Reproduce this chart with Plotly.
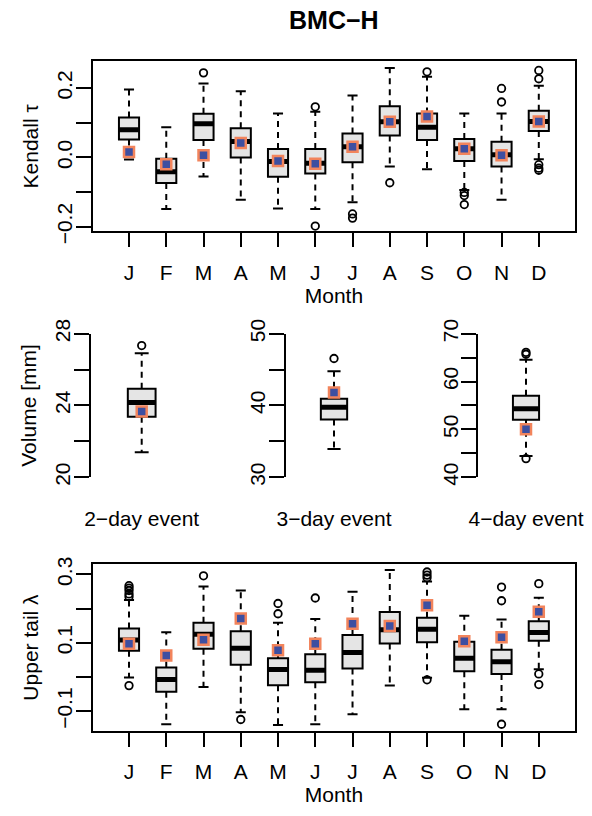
import plotly.graph_objects as go

W, H = 592, 816

months = ["J", "F", "M", "A", "M", "J", "J", "A", "S", "O", "N", "D"]
month_pos = list(range(1, 13))

# Kendall tau (top panel)
tau_upper = [0.196, 0.087, 0.213, 0.191, 0.127, 0.132, 0.179, 0.258, 0.233, 0.127, 0.127, 0.207]
tau_q3 = [0.115, -0.004, 0.126, 0.084, 0.024, 0.024, 0.069, 0.148, 0.127, 0.053, 0.045, 0.135]
tau_median = [0.080, -0.041, 0.097, 0.046, -0.012, -0.017, 0.031, 0.103, 0.087, 0.025, 0.008, 0.104]
tau_q1 = [0.052, -0.074, 0.050, 0.000, -0.056, -0.046, -0.014, 0.063, 0.050, -0.010, -0.026, 0.076]
tau_lower = [-0.006, -0.149, -0.055, -0.122, -0.147, -0.149, -0.129, -0.026, -0.034, -0.094, -0.122, -0.005]
tau_observed = [0.016, -0.020, 0.006, 0.042, -0.010, -0.018, 0.031, 0.103, 0.118, 0.025, 0.006, 0.104]
tau_out_month = [3, 6, 6, 7, 7, 8, 9, 10, 10, 10, 11, 11, 12, 12, 12, 12, 12]
tau_out_value = [0.244, 0.146, -0.198, -0.163, -0.175, -0.073, 0.247, -0.101, -0.110, -0.136,
                 0.199, 0.160, 0.251, 0.227, -0.021, -0.031, -0.037]

# Upper tail lambda (bottom panel)
lam_upper = [0.225, 0.131, 0.265, 0.253, 0.159, 0.170, 0.249, 0.313, 0.279, 0.179, 0.168, 0.232]
lam_q3 = [0.142, 0.028, 0.159, 0.134, 0.055, 0.067, 0.123, 0.190, 0.173, 0.103, 0.080, 0.163]
lam_median = [0.108, -0.007, 0.125, 0.084, 0.022, 0.020, 0.072, 0.138, 0.140, 0.055, 0.045, 0.130]
lam_q1 = [0.077, -0.043, 0.083, 0.036, -0.024, -0.015, 0.025, 0.098, 0.102, 0.017, 0.009, 0.106]
lam_lower = [-0.001, -0.138, -0.029, -0.103, -0.140, -0.138, -0.109, -0.025, -0.002, -0.094, -0.094, 0.023]
lam_observed = [0.097, 0.063, 0.109, 0.171, 0.078, 0.097, 0.156, 0.149, 0.210, 0.105, 0.116, 0.191]
lam_out_month = [1, 1, 1, 1, 1, 1, 3, 4, 5, 5, 6, 9, 9, 9, 9, 11, 11, 11, 12, 12, 12]
lam_out_value = [0.267, 0.260, 0.253, 0.243, 0.235, -0.025, 0.296, -0.124, 0.215, 0.185, 0.231,
                 0.307, 0.298, 0.290, -0.008, 0.263, 0.223, -0.138, 0.273, 0.009, -0.022]

# Volume (middle row): 2-, 3-, 4-day events
event_labels = ["2−day event", "3−day event", "4−day event"]
vol_upper = [26.91, 44.75, 64.55]
vol_q3 = [24.93, 40.95, 57.03]
vol_median = [24.16, 39.74, 54.33]
vol_q1 = [23.37, 38.03, 52.04]
vol_lower = [21.40, 33.95, 44.44]
vol_observed = [23.66, 41.80, 50.03]
vol_outliers = [[27.34], [46.54], [66.1, 65.7, 43.9]]
vol_ranges = [[20, 28], [30, 50], [40, 70]]
vol_ticks = [[20, 22, 24, 26, 28], [30, 35, 40, 45, 50], [40, 45, 50, 55, 60, 65, 70]]
vol_ticktext = [["20", "", "24", "", "28"], ["30", "", "40", "", "50"],
                ["40", "", "50", "", "60", "", "70"]]

FONT = "Liberation Sans, Arial, sans-serif"
FS = 21
BOX_FILL = "#e5e5e5"
OBS_FILL = "#3d4fa1"
OBS_EDGE = "#f2845c"


def px_x(p):
    return p / W


def px_y(p):
    return 1 - p / H


fig = go.Figure()


def add_boxplot(xa, ya, pos, q1, med, q3, lo, hi, obs, out_pos, out_val, half):
    cap = half / 2
    # whiskers (dashed)
    wx, wy = [], []
    for p, a, b, c, d in zip(pos, q3, hi, q1, lo):
        wx += [p, p, None, p, p, None]
        wy += [a, b, None, c, d, None]
    fig.add_trace(go.Scatter(x=wx, y=wy, mode="lines", xaxis=xa, yaxis=ya,
                             line=dict(color="black", width=2, dash="6px,5px"),
                             hoverinfo="skip", showlegend=False))
    # staples
    sx, sy = [], []
    for p, b, d in zip(pos, hi, lo):
        sx += [p - cap, p + cap, None, p - cap, p + cap, None]
        sy += [b, b, None, d, d, None]
    fig.add_trace(go.Scatter(x=sx, y=sy, mode="lines", xaxis=xa, yaxis=ya,
                             line=dict(color="black", width=2),
                             hoverinfo="skip", showlegend=False))
    # boxes
    fig.add_trace(go.Box(x=pos, q1=q1, median=med, q3=q3, lowerfence=q1, upperfence=q3,
                         width=2 * half, whiskerwidth=0, fillcolor=BOX_FILL,
                         line=dict(color="black", width=2), boxpoints=False,
                         xaxis=xa, yaxis=ya, showlegend=False))
    # thick medians
    mx, my = [], []
    for p, m in zip(pos, med):
        mx += [p - half * 0.99, p + half * 0.99, None]
        my += [m, m, None]
    fig.add_trace(go.Scatter(x=mx, y=my, mode="lines", xaxis=xa, yaxis=ya,
                             line=dict(color="black", width=5),
                             hoverinfo="skip", showlegend=False))
    # outliers
    fig.add_trace(go.Scatter(x=out_pos, y=out_val, mode="markers", xaxis=xa, yaxis=ya,
                             marker=dict(symbol="circle-open", size=7.5, color="black",
                                         line=dict(width=1.8, color="black")),
                             showlegend=False, cliponaxis=False))
    # observed values
    fig.add_trace(go.Scatter(x=pos, y=obs, mode="markers", xaxis=xa, yaxis=ya,
                             marker=dict(symbol="square", size=10, color=OBS_FILL,
                                         line=dict(width=2.5, color=OBS_EDGE)),
                             showlegend=False, cliponaxis=False))


# top panel
add_boxplot("x", "y", month_pos, tau_q1, tau_median, tau_q3, tau_lower, tau_upper,
            tau_observed, tau_out_month, tau_out_value, 0.27)
# bottom panel
add_boxplot("x5", "y5", month_pos, lam_q1, lam_median, lam_q3, lam_lower, lam_upper,
            lam_observed, lam_out_month, lam_out_value, 0.27)
# middle panels
for k in range(3):
    xa, ya = "x%d" % (k + 2), "y%d" % (k + 2)
    add_boxplot(xa, ya, [1], [vol_q1[k]], [vol_median[k]], [vol_q3[k]], [vol_lower[k]],
                [vol_upper[k]], [vol_observed[k]], [1] * len(vol_outliers[k]),
                vol_outliers[k], 0.147)

tickfont = dict(family=FONT, size=FS, color="black")
titlefont = dict(family=FONT, size=FS, color="black")

month_x = dict(range=[0.02, 12.98], tickmode="array", tickvals=month_pos, ticktext=months,
               ticks="outside", ticklen=14, tickwidth=2, tickcolor="black",
               showline=True, linewidth=2, linecolor="black", mirror=True,
               showgrid=False, zeroline=False, tickfont=tickfont, ticklabelstandoff=7,
               title=dict(text="Month", font=titlefont, standoff=4),
               domain=[px_x(92.5), px_x(575.3)])

yaxis_common = dict(ticks="outside", ticklen=15, tickwidth=2, tickcolor="black",
                    showline=True, linewidth=2, linecolor="black",
                    showgrid=False, zeroline=False, tickfont=tickfont, tickangle=-90,
                    ticklabelstandoff=-5)

fig.update_layout(
    xaxis=dict(month_x, anchor="y"),
    yaxis=dict(yaxis_common, anchor="x", mirror=True, range=[-0.2131, 0.2772],
               tickmode="array", tickvals=[-0.2, -0.1, 0.0, 0.1, 0.2],
               ticktext=["−0.2", "", "0.0", "", "0.2"],
               title=dict(text="Kendall τ", font=titlefont, standoff=9),
               domain=[px_y(224), px_y(48)]),
    xaxis5=dict(month_x, anchor="y5"),
    yaxis5=dict(yaxis_common, anchor="x5", mirror=True, range=[-0.1584, 0.331],
                tickmode="array", tickvals=[-0.1, 0.0, 0.1, 0.2, 0.3],
                ticktext=["−0.1", "", "0.1", "", "0.3"],
                title=dict(text="Upper tail λ", font=titlefont, standoff=9),
                domain=[px_y(741.7), px_y(568.3)]),
)

mid_x_domains = [[90.7, 192.7], [285.7, 382.3], [478, 574]]
for k in range(3):
    n = k + 2
    fig.update_layout(**{
        "xaxis%d" % n: dict(range=[0.46, 1.54], domain=[px_x(mid_x_domains[k][0]),
                                                         px_x(mid_x_domains[k][1])],
                            anchor="y%d" % n, showline=False, showticklabels=False,
                            ticks="", showgrid=False, zeroline=False,
                            title=dict(text=event_labels[k], font=titlefont, standoff=34)),
        "yaxis%d" % n: dict(yaxis_common, anchor="x%d" % n, range=vol_ranges[k],
                            tickmode="array", tickvals=vol_ticks[k], ticktext=vol_ticktext[k],
                            domain=[px_y(478.7), px_y(330)],
                            title=dict(text="Volume [mm]" if k == 0 else "",
                                       font=titlefont, standoff=9)),
    })

fig.update_layout(
    width=W, height=H, margin=dict(l=0, r=0, t=0, b=0),
    paper_bgcolor="white", plot_bgcolor="white",
    font=dict(family=FONT, size=FS, color="black"),
    title=dict(text="<b>BMC−H</b>", x=px_x(333.8), y=px_y(20), xanchor="center",
               yanchor="middle", font=dict(family=FONT, size=25, color="black")),
    showlegend=False,
)

fig.write_html("out.html")
